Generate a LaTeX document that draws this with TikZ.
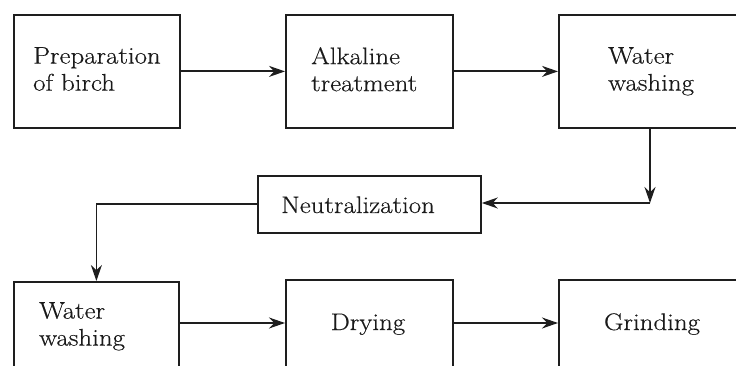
\documentclass[tikz,border=0pt]{standalone}
\usepackage{fontspec}
\setmainfont{Latin Modern Roman}[FakeStretch=1.12, FakeBold=0.4]
\usetikzlibrary{arrows.meta}
\definecolor{linec}{HTML}{1E1E1E}
\definecolor{txtc}{HTML}{1A1A1A}
\begin{document}
\begin{tikzpicture}[x=1pt,y=-1pt,
  box/.style={draw=linec, line width=1.8pt, rectangle, inner sep=0pt, anchor=north west},
  lbl/.style={inner sep=0pt, text=txtc, font=\fontsize{24pt}{27pt}\selectfont, align=left},
  arr/.style={draw=linec, line width=1.8pt, -{Stealth[length=16pt,width=11pt]}}]
\useasboundingbox (0,0) rectangle (736,366);
\clip (0,0) rectangle (736,366);
% boxes
\node[box, minimum width=166pt, minimum height=113pt] (b1) at (13,14) {};
\node[box, minimum width=167pt, minimum height=113pt] (b2) at (285,14) {};
\node[box, minimum width=188pt, minimum height=113pt] (b3) at (558,14) {};
\node[box, minimum width=223pt, minimum height=57pt] (neu) at (257,175) {};
\node[box, minimum width=165pt, minimum height=113pt] (b4) at (13,281) {};
\node[box, minimum width=167pt, minimum height=113pt] (b5) at (285,279) {};
\node[box, minimum width=188pt, minimum height=113pt] (b6) at (558,279) {};
% labels
\node[lbl, anchor=north west] (t1) at (33,47) {Preparation\\of birch};
\node[lbl, anchor=north west] (t2) at (311,47) {Alkaline\\treatment};
\node[lbl, anchor=north west] (t3) at (608,47) {Water\\washing};
\node[lbl, anchor=base west] (t4) at (281,213) {Neutralization};
\node[lbl, anchor=north west] (t5) at (39,302) {Water\\washing};
\node[lbl, anchor=base] (t6) at (368,330) {Drying};
\node[lbl, anchor=base] (t7) at (652,330) {Grinding};
% connectors
\coordinate (c1) at (650,203);
\coordinate (r2) at (0,323);
\draw[arr] (b1.east) -- (b2.west);
\draw[arr] (b2.east) -- (b3.west);
\draw[arr] (b3.south -| c1) -- (c1);
\draw[arr] (c1) -- (c1 -| neu.east);
\draw[arr] (neu.west) -| (b4.north);
\draw[arr] (b4.east |- r2) -- (b5.west |- r2);
\draw[arr] (b5.east |- r2) -- (b6.west |- r2);
\end{tikzpicture}
\end{document}
